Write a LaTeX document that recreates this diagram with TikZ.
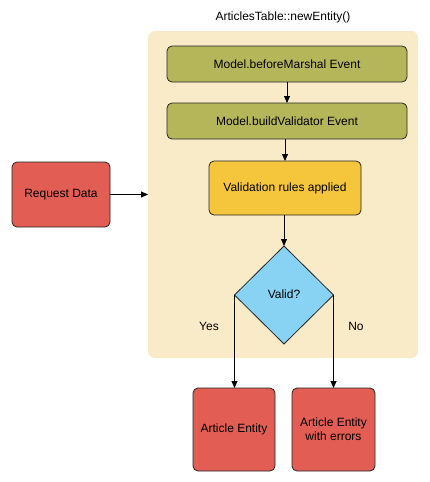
\documentclass[tikz,border=0pt]{standalone}
\usepackage{fontspec}
\setmainfont{Liberation Sans}
\usetikzlibrary{shapes.geometric,arrows.meta}
\definecolor{panelc}{HTML}{FAEBC8}
\definecolor{olivec}{HTML}{B5B65A}
\definecolor{yellowc}{HTML}{F5C63B}
\definecolor{redc}{HTML}{E25D54}
\definecolor{bluec}{HTML}{88D2F3}
\begin{document}
\begin{tikzpicture}[x=1pt,y=-1pt,
  every node/.style={font=\fontsize{12}{14}\selectfont, outer sep=0pt, inner sep=2pt},
  boxc/.style={draw=black!85, line width=0.8pt, rounded corners=5pt, align=center},
  arr/.style={-{Triangle[length=7pt,width=6pt]}, line width=0.8pt, draw=black}
]
\useasboundingbox (0,0) rectangle (430,482);
\node[fill=panelc, rounded corners=7pt, minimum width=270pt, minimum height=327pt] (panel) at (283,194.5) {};
\node (title) at (283,17) {ArticlesTable::newEntity()};
\node[boxc, fill=olivec, minimum width=240pt, minimum height=36pt] (b1) at (287,64) {Model.beforeMarshal Event};
\node[boxc, fill=olivec, minimum width=240pt, minimum height=36pt] (b2) at (287,121) {Model.buildValidator Event};
\node[boxc, fill=yellowc, minimum width=152pt, minimum height=54pt] (b3) at (285,188) {Validation rules applied};
\node[diamond, draw=black!85, line width=0.8pt, fill=bluec, minimum width=99pt, minimum height=98pt, inner sep=0pt] (valid) at (284,295) {};
\node (vt) at (284,294) {Valid?};
\node[boxc, fill=redc, minimum width=98pt, minimum height=65pt] (req) at (61,194.5) {Request Data};
\node[boxc, fill=redc, minimum width=82pt, minimum height=83pt] (ae) at (234,429.5) {Article Entity};
\node[boxc, fill=redc, minimum width=83pt, minimum height=83pt] (aerr) at (333.5,429.5) {Article Entity\\with errors};
\node (yes) at (209,326) {Yes};
\node (no) at (356,326) {No};
\draw[arr] (b1.south -| b2.north) -- (b2.north);
\draw[arr] (b2.south -| b3.north) -- (b3.north);
\draw[arr] (b3.south -| valid.north) -- (valid.north);
\draw[arr] (req.east) -- (req.east -| panel.west);
\draw[arr] (valid.west) -- (valid.west |- ae.north);
\draw[arr] (valid.east) -- (valid.east |- aerr.north);
\end{tikzpicture}
\end{document}
